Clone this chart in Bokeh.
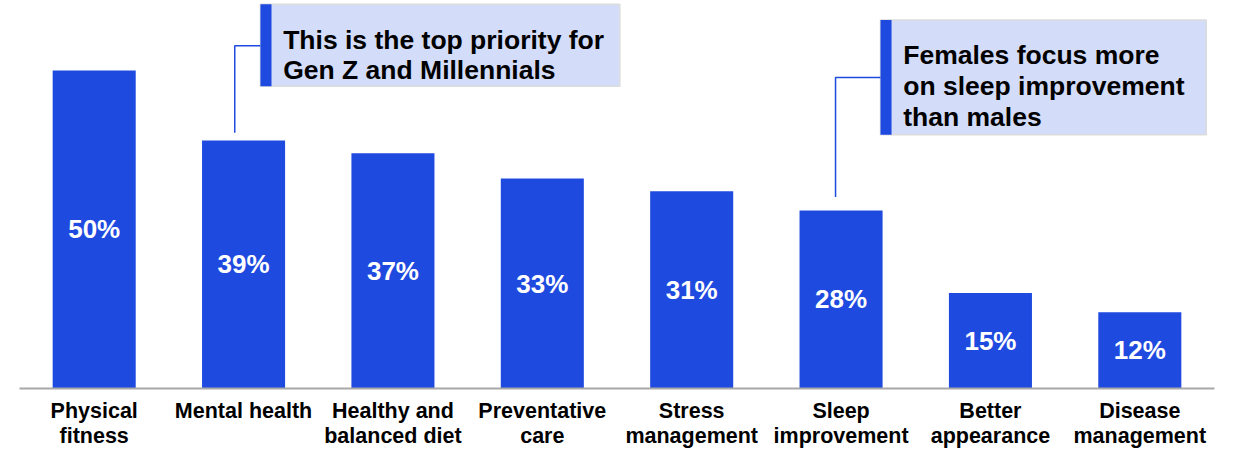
from bokeh.plotting import figure
from bokeh.models import FactorRange, Range1d, ColumnDataSource
from bokeh.core.properties import value
from bokeh.embed import file_html
from bokeh.resources import INLINE

# ---- data ----
categories = ["Physical\nfitness", "Mental health", "Healthy and\nbalanced diet",
              "Preventative\ncare", "Stress\nmanagement", "Sleep\nimprovement",
              "Better\nappearance", "Disease\nmanagement"]
shares = [50, 39, 37, 33, 31, 28, 15, 12]
share_labels = [f"{v}%" for v in shares]
callout_mental = ["This is the top priority for", "Gen Z and Millennials"]
callout_sleep = ["Females focus more", "on sleep improvement", "than males"]

# ---- styles ----
BLUE = "#1F4AE0"
BOX_FILL = "#D3DCF8"
BOX_LINE = "#DCDCDC"
FONT = "Liberation Sans"

p = figure(x_range=FactorRange(*categories, range_padding=0),
           y_range=Range1d(0, 61.0),
           frame_width=1195, frame_height=388,
           output_backend="svg", toolbar_location=None,
           min_border_left=19, min_border_right=3,
           min_border_top=0, min_border_bottom=50)
p.outline_line_color = None
p.xgrid.grid_line_color = None
p.ygrid.grid_line_color = None
p.yaxis.visible = False
p.background_fill_color = "white"
p.border_fill_color = "white"

ax = p.xaxis[0]
ax.axis_line_color = "#A8A8A8"
ax.axis_line_width = 2
ax.major_tick_line_color = None
ax.minor_tick_line_color = None
ax.major_label_text_font = FONT
ax.major_label_text_font_style = "bold"
ax.major_label_text_font_size = "21.5px"
ax.major_label_text_color = "black"
ax.major_label_text_line_height = 1.08
ax.major_label_standoff = 4

src = ColumnDataSource(dict(cat=categories, share=shares,
                            mid=[v / 2 for v in shares], lab=share_labels))
p.vbar(x="cat", top="share", width=0.556, source=src,
       fill_color=BLUE, line_color=None)
p.text(x="cat", y="mid", text="lab", source=src,
       text_align="center", text_baseline="middle",
       text_color="white", text_font=value(FONT), text_font_style="bold",
       text_font_size="26px")


def callout(lines, left, stripe_w, right, bottom, top, text_x, baselines,
            conn_x, conn_y, conn_end):
    p.quad(left=[left], right=[right], bottom=[bottom], top=[top],
           fill_color=BOX_FILL, line_color=BOX_LINE, line_width=1.5)
    p.quad(left=[left], right=[left + stripe_w], bottom=[bottom], top=[top],
           fill_color=BLUE, line_color=None)
    p.line(x=[left, conn_x, conn_x], y=[conn_y, conn_y, conn_end],
           line_color=BLUE, line_width=1.5)
    p.text(x=[text_x] * len(lines), y=baselines, text=lines,
           text_align="left", text_baseline="alphabetic",
           text_color="black", text_font=value(FONT), text_font_style="bold",
           text_font_size="26.5px")


callout(callout_mental, left=1.613, stripe_w=0.074, right=4.019,
        bottom=47.5, top=60.4, text_x=1.765, baselines=[54.8, 50.0],
        conn_x=1.441, conn_y=53.9, conn_end=shares[1] + 1.2)
callout(callout_sleep, left=5.764, stripe_w=0.074, right=7.945,
        bottom=39.9, top=57.95, text_x=5.916, baselines=[52.5, 47.5, 42.7],
        conn_x=5.463, conn_y=48.9, conn_end=shares[5] + 2.1)

open("out.html", "w").write(file_html(p, INLINE))
